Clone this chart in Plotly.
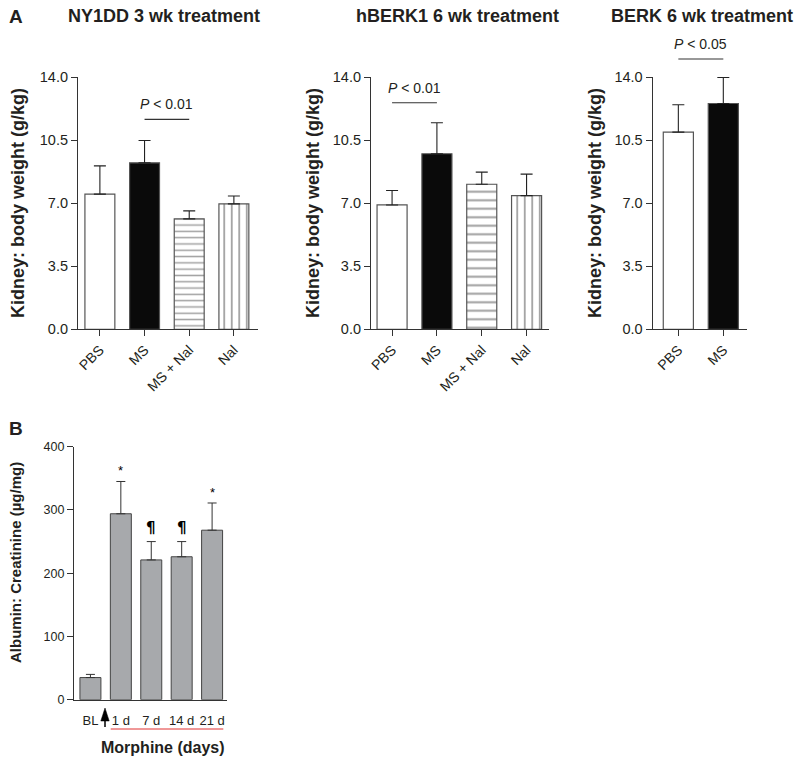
import plotly.graph_objects as go

W, H = 798, 764

# ---------------- data ----------------
a_groups4 = ["PBS", "MS", "MS + Nal", "Nal"]
a_groups2 = ["PBS", "MS"]

ny1dd_mean = [7.5, 9.24, 6.13, 6.96]
ny1dd_sd = [1.57, 1.24, 0.44, 0.44]

hberk1_mean = [6.9, 9.74, 8.05, 7.42]
hberk1_sd = [0.8, 1.72, 0.67, 1.19]

berk_mean = [10.94, 12.53]
berk_sd = [1.52, 1.45]

a_yticks = [0.0, 3.5, 7.0, 10.5, 14.0]
a_yticklabels = ["0.0", "3.5", "7.0", "10.5", "14.0"]

b_groups = ["BL", "1 d", "7 d", "14 d", "21 d"]
b_mean = [35, 294, 221, 226, 268]
b_sd = [5, 51, 29, 24, 43]
b_marks = ["", "*", "¶", "¶", "*"]
b_yticks = [0, 100, 200, 300, 400]

sig_ny1dd = ("MS", "MS + Nal", 11.65, "<i>P</i> &lt; 0.01")
sig_hberk1 = ("PBS", "MS", 12.57, "<i>P</i> &lt; 0.01")
sig_berk = ("PBS", "MS", 15.0, "<i>P</i> &lt; 0.05")

# ---------------- style ----------------
FONT = "Liberation Sans, Arial, sans-serif"
TXT = "#231f20"
AX = "#333333"
EDGE = "#555555"

def px(x):
    return x / W

def py(y):
    return 1 - y / H

fig = go.Figure()

a_colors4 = ["white", "#0a0a0a", "white", "white"]

def add_a_panel(idx, groups, means, sds, colors, shapes, sizes):
    xa = "x" if idx == 1 else f"x{idx}"
    ya = "y" if idx == 1 else f"y{idx}"
    fig.add_trace(go.Bar(
        x=groups, y=means, xaxis=xa, yaxis=ya, width=0.67,
        marker=dict(color=colors,
                    line=dict(color=EDGE, width=1.2),
                    pattern=dict(shape=shapes, size=sizes, solidity=0.24,
                                 fgcolor="#000000", bgcolor="white", fillmode="overlay")),
        error_y=dict(type="data", array=sds, arrayminus=[0] * len(sds), symmetric=False,
                     color="#222222", thickness=1.1, width=6),
        showlegend=False, hoverinfo="skip",
    ))

add_a_panel(1, a_groups4, ny1dd_mean, ny1dd_sd, a_colors4, ["", "", "-", "|"], [6, 6, 6.3, 7.5])
add_a_panel(2, a_groups4, hberk1_mean, hberk1_sd, a_colors4, ["", "", "-", "|"], [6, 6, 8.5, 7.5])
add_a_panel(3, a_groups2, berk_mean, berk_sd, ["white", "#0a0a0a"], ["", ""], [6, 6])

fig.add_trace(go.Bar(
    x=b_groups, y=b_mean, xaxis="x4", yaxis="y4", width=0.69,
    marker=dict(color="#a7a9ac", line=dict(color="#444444", width=1)),
    error_y=dict(type="data", array=b_sd, arrayminus=[0] * len(b_sd), symmetric=False,
                 color="#333333", thickness=1, width=4.5),
    showlegend=False, hoverinfo="skip",
))

# ---------------- axes ----------------
a_y_dom = [py(329.3), py(77)]
common_x = dict(type="category", showline=True, linecolor=AX, linewidth=1.2,
                ticks="outside", ticklen=6, tickcolor=AX, tickwidth=1.2,
                tickangle=-45, tickfont=dict(family=FONT, size=14, color=TXT),
                showgrid=False, zeroline=False, fixedrange=True, automargin=False)
common_ya = dict(range=[0, 14], showline=True, linecolor=AX, linewidth=1.2,
                 ticks="outside", ticklen=6, tickcolor=AX, tickwidth=1.2,
                 tickvals=a_yticks, ticktext=a_yticklabels,
                 tickfont=dict(family=FONT, size=14.5, color=TXT),
                 showgrid=False, zeroline=False, fixedrange=True, automargin=False)

fig.update_layout(
    width=W, height=H, margin=dict(l=0, r=0, t=0, b=0, pad=0, autoexpand=False),
    paper_bgcolor="white", plot_bgcolor="white",
    font=dict(family=FONT, color=TXT),
    xaxis=dict(common_x, domain=[px(78), px(258)], range=[-0.49, 3.54], anchor="y"),
    yaxis=dict(common_ya, domain=a_y_dom, anchor="x"),
    xaxis2=dict(common_x, domain=[px(371), px(549)], range=[-0.47, 3.5], anchor="y2"),
    yaxis2=dict(common_ya, domain=a_y_dom, anchor="x2"),
    xaxis3=dict(common_x, domain=[px(652.7), px(746.7)], range=[-0.57, 1.52], anchor="y3"),
    yaxis3=dict(common_ya, domain=a_y_dom, anchor="x3"),
    xaxis4=dict(type="category", domain=[px(74), px(227)], range=[-0.54, 4.49], anchor="y4",
                showline=True, linecolor=AX, linewidth=1.2, ticks="", showgrid=False,
                zeroline=False, ticklabelstandoff=9, automargin=False,
                tickfont=dict(family=FONT, size=13, color=TXT), fixedrange=True),
    yaxis4=dict(range=[0, 400], domain=[py(699.7), py(446.7)], anchor="x4",
                showline=True, linecolor=AX, linewidth=1.2, ticks="outside", ticklen=6,
                tickcolor=AX, tickwidth=1.2, tickvals=b_yticks, automargin=False,
                tickfont=dict(family=FONT, size=12.5, color=TXT),
                showgrid=False, zeroline=False, fixedrange=True),
)

# ---------------- annotations ----------------
ann = []
def label(text, x, y, size, bold=False, angle=0, xanchor="center"):
    t = f"<b>{text}</b>" if bold else text
    ann.append(dict(text=t, x=px(x), y=py(y), xref="paper", yref="paper",
                    showarrow=False, textangle=angle, xanchor=xanchor, yanchor="middle",
                    font=dict(family=FONT, size=size, color=TXT)))

label("A", 7, 16, 19, bold=True, xanchor="left")
label("B", 7, 428, 19, bold=True, xanchor="left")
label("NY1DD 3 wk treatment", 164, 16, 18, bold=True)
label("hBERK1 6 wk treatment", 457, 16, 18, bold=True)
label("BERK 6 wk treatment", 702, 16, 18, bold=True)
for xc in (18, 313, 595):
    label("Kidney: body weight (g/kg)", xc, 203, 18, bold=True, angle=-90)
label("Albumin: Creatinine (µg/mg)", 15.5, 562.5, 15, bold=True, angle=-90)
label("Morphine (days)", 162.5, 747, 16, bold=True)

# significance bars (y converted to paper coords through the y-axis scale)
def yval_to_paper(v, dom=a_y_dom, rng=(0, 14)):
    return dom[0] + (v - rng[0]) / (rng[1] - rng[0]) * (dom[1] - dom[0])

cats = {"x": a_groups4, "x2": a_groups4, "x3": a_groups2}
shapes = []
for (g1, g2, v, txt), xr in ((sig_ny1dd, "x"), (sig_hberk1, "x2"), (sig_berk, "x3")):
    ypap = yval_to_paper(v)
    shapes.append(dict(type="line", xref=xr, yref="paper", x0=g1, x1=g2, y0=ypap, y1=ypap,
                       line=dict(color="#333333", width=1.1)))
    ann.append(dict(text=txt, xref=xr, yref="paper",
                    x=(cats[xr].index(g1) + cats[xr].index(g2)) / 2,
                    y=ypap + 5 / H, showarrow=False, yanchor="bottom",
                    font=dict(family=FONT, size=14, color=TXT)))

# panel B markers above error bars
for g, m, s, e in zip(b_groups, b_marks, b_mean, b_sd):
    if m:
        is_star = m == "*"
        ann.append(dict(text=m if is_star else f"<b>{m}</b>", x=g, y=s + e,
                        xref="x4", yref="y4", showarrow=False,
                        yanchor="bottom", yshift=1 if is_star else 3,
                        font=dict(family=FONT if is_star else "DejaVu Sans",
                                  size=13 if is_star else 15, color="#000000")))

# arrow between BL and 1 d, and red underline of morphine days
shapes.append(dict(type="line", xref="paper", yref="paper",
                   x0=px(105), x1=px(105), y0=py(727), y1=py(718),
                   line=dict(color="black", width=1.5)))
shapes.append(dict(type="path", xref="paper", yref="paper",
                   path=f"M {px(100.8)},{py(721)} L {px(109.2)},{py(721)} L {px(105)},{py(708)} Z",
                   fillcolor="black", line=dict(color="black", width=0.5)))
shapes.append(dict(type="line", xref="paper", yref="paper",
                   x0=px(110.7), x1=px(223.3), y0=py(729), y1=py(729),
                   line=dict(color="#e03030", width=1)))

fig.update_layout(annotations=ann, shapes=shapes)
fig.write_html("out.html", config={"displayModeBar": False},
               post_script="document.body.style.margin='0px';")
